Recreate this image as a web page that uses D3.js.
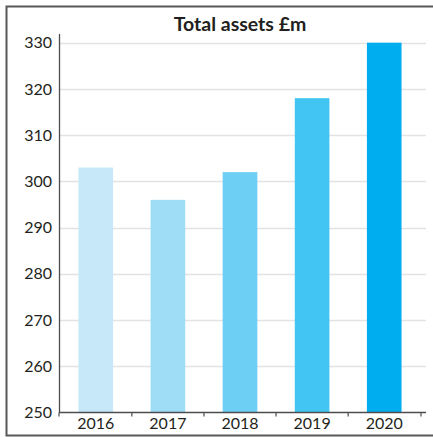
<!DOCTYPE html>
<html>
<head>
<meta charset="utf-8">
<script src="https://cdn.jsdelivr.net/npm/d3@7"></script>
<style>
  html, body { margin: 0; padding: 0; background: #fff; }
  svg { display: block; }
  text { font-family: Lato, "Open Sans", sans-serif; fill: #231f20; }
</style>
</head>
<body>
<svg id="chart" width="433" height="437"></svg>
<script>
// Total assets by year, £m
const years = ["2016", "2017", "2018", "2019", "2020"];
const assets = [303, 296, 302, 318, 330];
const barColors = ["#c6e8f8", "#9fdcf6", "#6ecff4", "#42c5f2", "#00aeef"];
const yTicks = [250, 260, 270, 280, 290, 300, 310, 320, 330];
const title = "Total assets £m";

const svg = d3.select("#chart");
const W = 433, H = 437;
const m = { left: 59, right: 12, top: 34, bottom: 24 };
const plotRight = 421;
const plotBottom = 412.5;

// Frame around the panel (left, top, bottom)
svg.append("path")
  .attr("d", `M${W},6.5 H6.5 V435.5 H${W}`)
  .attr("fill", "none")
  .attr("stroke", "#58595b")
  .attr("stroke-width", 2);

const x = d3.scaleBand()
  .domain(years)
  .range([m.left, plotRight])
  .paddingInner(0.52)
  .paddingOuter(0.27);

const y = d3.scaleLinear()
  .domain([250, 330])
  .range([plotBottom, 42.7]);

// Horizontal gridlines
svg.append("g")
  .selectAll("line")
  .data(yTicks.filter(t => t !== 250))
  .join("line")
  .attr("x1", m.left)
  .attr("x2", 426)
  .attr("y1", d => Math.round(y(d)) + 0.5)
  .attr("y2", d => Math.round(y(d)) + 0.5)
  .attr("stroke", "#e3e3e3")
  .attr("stroke-width", 1.3);

// Bars
svg.append("g")
  .selectAll("rect")
  .data(years.map((yr, i) => ({ yr, v: assets[i], c: barColors[i] })))
  .join("rect")
  .attr("x", d => x(d.yr))
  .attr("width", x.bandwidth())
  .attr("y", d => y(d.v))
  .attr("height", d => y(250) - y(d.v))
  .attr("fill", d => d.c);

// Y axis
const yAxis = svg.append("g")
  .attr("transform", `translate(${m.left},0)`)
  .call(d3.axisLeft(y).tickValues(yTicks).tickSize(0).tickPadding(7));
yAxis.select(".domain").remove();
yAxis.selectAll("text")
  .style("font-size", "16px")
  .style("font-family", "Lato, sans-serif")
  .attr("fill", "#231f20");
svg.append("line")
  .attr("x1", m.left + 0.5).attr("x2", m.left + 0.5)
  .attr("y1", 34).attr("y2", plotBottom)
  .attr("stroke", "#4d4d4f").attr("stroke-width", 1.3);

// X axis
const xAxis = svg.append("g")
  .attr("transform", `translate(0,${plotBottom})`)
  .call(d3.axisBottom(x).tickSize(0).tickPadding(5));
xAxis.select(".domain").remove();
xAxis.selectAll("text")
  .style("font-size", "16px")
  .style("font-family", "Lato, sans-serif")
  .attr("fill", "#231f20");
svg.append("line")
  .attr("x1", m.left).attr("x2", 426)
  .attr("y1", plotBottom).attr("y2", plotBottom)
  .attr("stroke", "#4d4d4f").attr("stroke-width", 1.3);
// Category boundary ticks
const bounds = years.map(yr => x(yr) - x.step() * x.paddingInner() / 2);
bounds[0] = m.left;
bounds.push(plotRight);
svg.append("g")
  .selectAll("line")
  .data(bounds)
  .join("line")
  .attr("x1", d => d).attr("x2", d => d)
  .attr("y1", plotBottom).attr("y2", plotBottom + 4)
  .attr("stroke", "#4d4d4f").attr("stroke-width", 1.2);

// Title
svg.append("text")
  .attr("x", 240)
  .attr("y", 31)
  .attr("text-anchor", "middle")
  .style("font-size", "19.5px")
  .style("font-weight", "bold")
  .text(title);
</script>
</body>
</html>
